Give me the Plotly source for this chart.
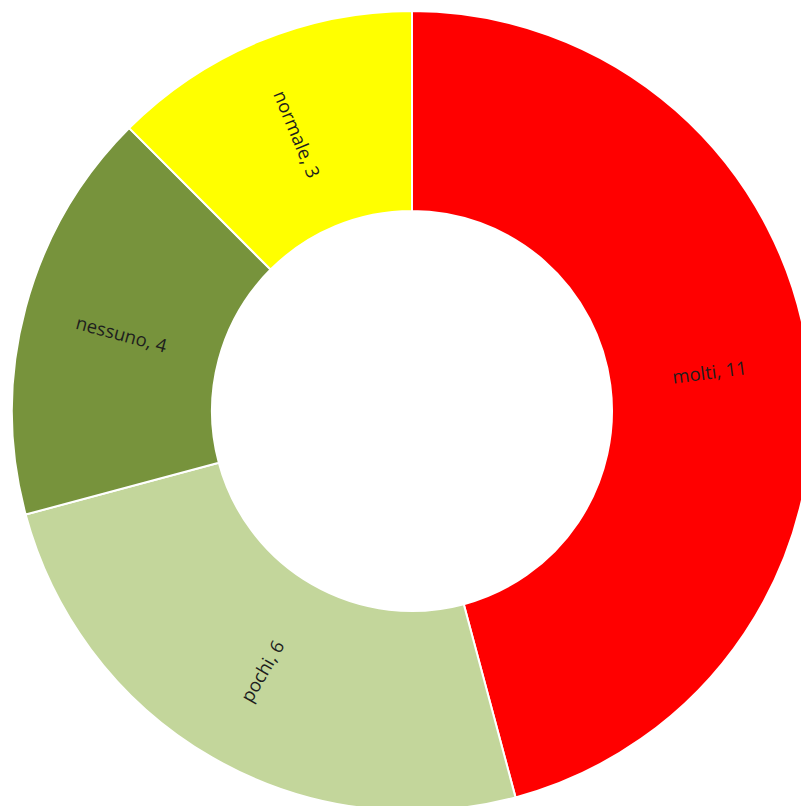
import math
import plotly.graph_objects as go

labels = ["molti", "pochi", "nessuno", "normale"]
values = [11, 6, 4, 3]
colors = ["#FF0000", "#C3D69B", "#77933C", "#FFFF00"]

HOLE = 0.5

fig = go.Figure(go.Pie(
    labels=labels,
    values=values,
    hole=HOLE,
    sort=False,
    direction="clockwise",
    rotation=0,
    marker=dict(colors=colors, line=dict(color="white", width=2)),
    textinfo="none",
    showlegend=False,
    hoverinfo="label+value",
))

# radial labels placed at mid-angle of each slice, middle of the ring
total = sum(values)
cum = 0
r_frac = (1 + HOLE) / 2 * 0.5  # ring middle radius as fraction of plot area
for lab, v in zip(labels, values):
    mid = (cum + v / 2) / total * 360.0
    cum += v
    th = math.radians(mid)
    x = 0.5 + r_frac * math.sin(th)
    y = 0.5 + r_frac * math.cos(th)
    if mid < 180:
        ang = mid - 90
    else:
        ang = mid + 90 - 360
    fig.add_annotation(
        x=x, y=y, xref="paper", yref="paper",
        xanchor="center", yanchor="middle",
        text=f"{lab}, {v}", showarrow=False, textangle=ang,
        font=dict(family="Open Sans", size=18.5, color="#1e1e1e"),
    )

fig.update_layout(
    width=812,
    height=811,
    margin=dict(l=12, t=11, r=0, b=0),
    paper_bgcolor="white",
    plot_bgcolor="white",
)

fig.write_html(
    "out.html",
    post_script="document.body.style.overflow='hidden';document.documentElement.style.overflow='hidden';document.body.style.margin='0';",
)
